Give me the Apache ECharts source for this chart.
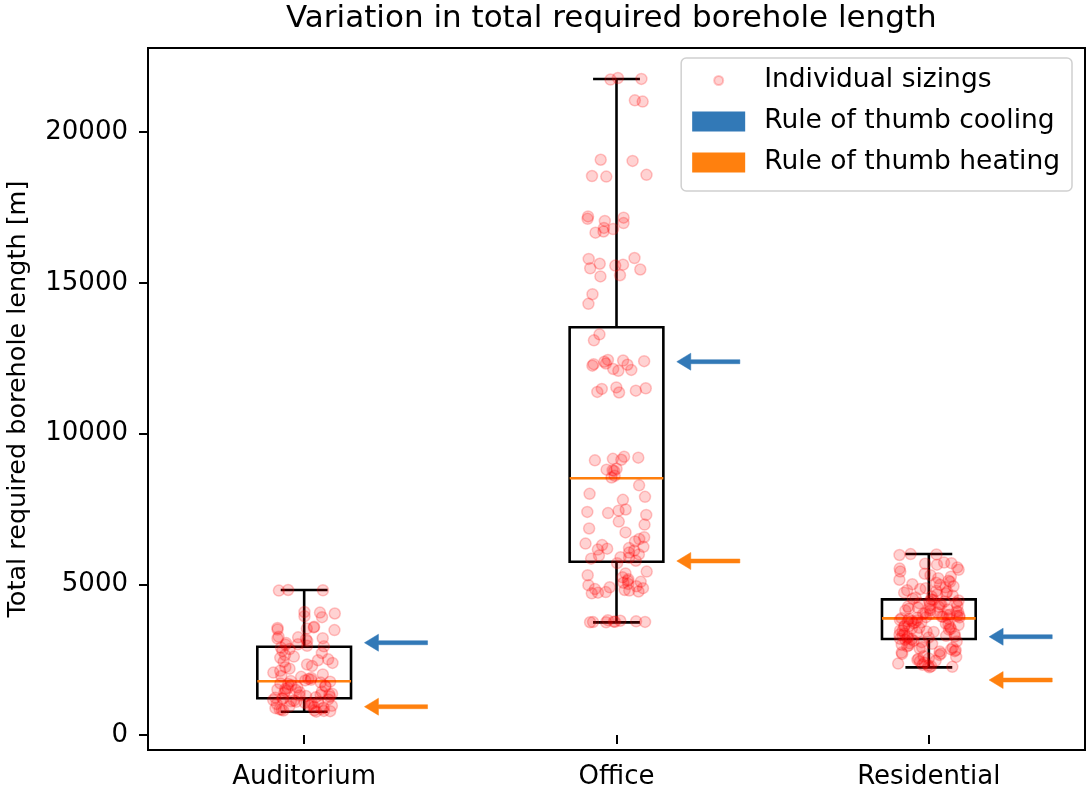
<!DOCTYPE html>
<html>
<head>
<meta charset="utf-8">
<script src="https://cdn.jsdelivr.net/npm/echarts@6.0.0/dist/echarts.min.js"></script>
<style>
  html, body { margin: 0; padding: 0; background: #fff; }
  #chart { width: 1087px; height: 793px; }
</style>
</head>
<body>
<div id="chart"></div>
<script>
// data
const categories = ['Auditorium', 'Office', 'Residential'];

const auditoriumLengths = [
  4800, 4790, 4810, 4060, 4030, 4080, 3940, 3910, 3570, 3530, 3550, 3500, 3590, 3480,
  3240, 3200, 3210, 3260, 3180, 3120, 3050, 3010, 2990, 2960, 2940,
  2900, 2850, 2790, 2720, 2650, 2600, 2560, 2510, 2480, 2430, 2390, 2340, 2290, 2250,
  2200, 2130, 2070, 2010, 1960, 1930, 1890, 1860, 1830, 1810, 1790,
  1770, 1740, 1710, 1690, 1660, 1630, 1610, 1580, 1560, 1530, 1510, 1490, 1460, 1440,
  1420, 1390, 1370, 1350, 1330, 1310, 1290, 1270, 1250, 1240, 1220,
  1200, 1180, 1160, 1140, 1120, 1100, 1090, 1070, 1050, 1030, 1010, 990, 970, 950,
  930, 910, 890, 870, 850, 840, 820, 810, 800, 790, 775
];

const officeLengths = [
  21790, 21760, 21740, 21050, 21010, 19080, 19040, 18580, 18540, 18520, 17200, 17160,
  17120, 17050, 16980, 16820, 16780, 16700, 16660, 15820, 15790, 15630, 15600, 15570,
  15480, 15440, 15250, 15210, 14620, 14300,
  13290, 13090, 12440, 12420, 12400, 12380, 12320, 12300, 12280, 12250, 12140, 12110,
  12080, 11530, 11500, 11480, 11420, 11380, 11360, 9230, 9200, 9160, 9130, 9110, 8830,
  8800, 8780, 8760, 8600, 8540,
  8280, 8000, 7900, 7800, 7480, 7440, 7400, 7360, 7300, 7080, 6980, 6850, 6720, 6560,
  6500, 6420, 6350, 6300, 6240, 6200, 6180, 6150, 6120, 6050, 5990, 5950, 5900, 5880,
  5850, 5780,
  5700, 5420, 5360, 5300, 5230, 5170, 5120, 5080, 5050, 5010, 4970, 4930, 4900, 4870,
  4840, 4810, 4790, 4760, 4740, 4720, 4700, 3810, 3790, 3770, 3760, 3755, 3750, 3745,
  3740, 3738
];

const residentialLengths = [
  6000, 5990, 5970, 5720, 5700, 5680, 5650, 5560, 5520, 5480, 5420, 5350, 5300, 5250,
  5200, 5150, 5120, 5080, 5050, 5000, 4980, 4930, 4900, 4870, 4840, 4800, 4780, 4750,
  4720, 4700, 4660, 4620, 4590, 4560, 4520,
  4495, 4480, 4460, 4430, 4420, 4385, 4370, 4340, 4330, 4300, 4280, 4260, 4250, 4220,
  4200, 4190, 4160, 4140, 4130, 4100, 4090, 4060, 4050, 4020, 4010, 3990, 3980, 3960,
  3950, 3930, 3920, 3910, 3900, 3890, 3875,
  3862, 3845, 3820, 3810, 3785, 3770, 3740, 3735, 3710, 3690, 3675, 3650, 3630, 3615,
  3590, 3580, 3555, 3530, 3520, 3495, 3470, 3460, 3430, 3420, 3390, 3370, 3355, 3330,
  3310, 3290, 3270, 3250, 3235, 3210, 3190,
  3175, 3160, 3125, 3105, 3080, 3040, 3025, 2990, 2975, 2940, 2910, 2895, 2860, 2840,
  2815, 2780, 2770, 2735, 2700, 2690, 2655, 2610, 2590, 2540, 2530, 2490, 2460, 2445,
  2400, 2370, 2330, 2300, 2280, 2260, 2245
];

// whisker low, Q1, median, Q3, whisker high
const boxStats = [
  [773, 1217, 1781, 2929, 4810],
  [3737, 5748, 8514, 13522, 21758],
  [2245, 3184, 3870, 4500, 6003]
];

const coolingRule = [3061, 12382, 3260];
const heatingRule = [939, 5771, 1824];

const yTicks = [0, 5000, 10000, 15000, 20000];

const FONT = 'DejaVu Sans';
const coolColor = '#3279b7';
const heatColor = '#ff800e';

const allLengths = [auditoriumLengths, officeLengths, residentialLengths];
const points = [];
allLengths.forEach((list, i) => {
  list.forEach(v => points.push([i, v]));
});

const boxData = boxStats.map((s, i) => [i].concat(s));
const coolData = coolingRule.map((v, i) => [i, v]);
const heatData = heatingRule.map((v, i) => [i, v]);

function renderBox(params, api) {
  const i = api.value(0);
  const low = api.coord([i, api.value(1)]);
  const q1 = api.coord([i, api.value(2)]);
  const med = api.coord([i, api.value(3)]);
  const q3 = api.coord([i, api.value(4)]);
  const high = api.coord([i, api.value(5)]);
  const band = api.size([1, 0])[0];
  const half = band * 0.15;
  const cap = band * 0.075;
  const cx = low[0];
  const st = { stroke: '#000', lineWidth: 2.6, fill: 'none' };
  return {
    type: 'group',
    children: [
      { type: 'line', shape: { x1: cx, y1: q3[1], x2: cx, y2: high[1] }, style: st },
      { type: 'line', shape: { x1: cx, y1: q1[1], x2: cx, y2: low[1] }, style: st },
      { type: 'line', shape: { x1: cx - cap, y1: high[1], x2: cx + cap, y2: high[1] }, style: st },
      { type: 'line', shape: { x1: cx - cap, y1: low[1], x2: cx + cap, y2: low[1] }, style: st },
      { type: 'rect', shape: { x: cx - half, y: q3[1], width: half * 2, height: q1[1] - q3[1] }, style: st },
      { type: 'line', shape: { x1: cx - half, y1: med[1], x2: cx + half, y2: med[1] },
        style: { stroke: '#ff7f0e', lineWidth: 2.6 } }
    ]
  };
}

function arrowRenderer(color) {
  return function (params, api) {
    const p = api.coord([api.value(0), api.value(1)]);
    const band = api.size([1, 0])[0];
    const tip = p[0] + band * 0.193;
    const tail = p[0] + band * 0.395;
    const headLen = 14, headHalf = 8.5, shaft = 2;
    const y = p[1];
    return {
      type: 'polygon',
      shape: {
        points: [
          [tail, y - shaft], [tip + headLen, y - shaft], [tip + headLen, y - headHalf],
          [tip, y], [tip + headLen, y + headHalf], [tip + headLen, y + shaft], [tail, y + shaft]
        ]
      },
      style: { fill: color, stroke: color, lineWidth: 0.5 }
    };
  };
}

const chart = echarts.init(document.getElementById('chart'));

const option = {
  backgroundColor: '#fff',
  animation: false,
  title: {
    text: 'Variation in total required borehole length',
    left: 286,
    top: 3,
    padding: 0,
    textStyle: { fontFamily: FONT, fontSize: 31, fontWeight: 'normal', color: '#000' }
  },
  legend: {
    orient: 'vertical',
    right: 15,
    top: 58,
    padding: [9, 12, 15, 10],
    itemWidth: 53,
    itemHeight: 20,
    itemGap: 14,
    borderColor: '#d0d0d0',
    borderWidth: 1.5,
    borderRadius: 5,
    backgroundColor: 'rgba(255,255,255,0.8)',
    textStyle: { fontFamily: FONT, fontSize: 26.5, color: '#000', lineHeight: 26, padding: [0, 0, 0, 14] },
    data: [
      { name: 'Individual sizings', icon: 'path://M0,0M53,20M31,10A4.5,4.5,0,1,1,22,10A4.5,4.5,0,1,1,31,10Z' },
      { name: 'Rule of thumb cooling', icon: 'rect' },
      { name: 'Rule of thumb heating', icon: 'rect' }
    ]
  },
  grid: {
    left: 148,
    right: 2,
    top: 48,
    bottom: 43,
    outerBoundsMode: 'none',
    containLabel: false,
    show: true,
    borderColor: '#000',
    borderWidth: 2,
    backgroundColor: 'transparent'
  },
  xAxis: {
    type: 'category',
    data: categories,
    boundaryGap: true,
    jitter: 62,
    axisLine: { show: false },
    axisTick: { show: true, alignWithLabel: true, length: 9, lineStyle: { color: '#000', width: 2 } },
    axisLabel: { fontFamily: FONT, fontSize: 26, color: '#000', margin: 14 },
    splitLine: { show: false }
  },
  yAxis: {
    type: 'value',
    min: -497,
    max: 22786,
    name: 'Total required borehole length [m]',
    nameLocation: 'middle',
    nameGap: 117,
    nameTextStyle: { fontFamily: FONT, fontSize: 25.5, color: '#000' },
    axisLine: { show: false },
    axisTick: { show: true, length: 9, customValues: yTicks, lineStyle: { color: '#000', width: 2 } },
    axisLabel: {
      fontFamily: FONT, fontSize: 26, color: '#000', margin: 20, customValues: yTicks,
      formatter: v => String(v)
    },
    splitLine: { show: false }
  },
  series: [
    {
      name: 'boxes',
      type: 'custom',
      renderItem: renderBox,
      data: boxData,
      encode: { x: 0, y: [1, 2, 3, 4, 5] },
      z: 2,
      silent: true
    },
    {
      name: 'Individual sizings',
      type: 'scatter',
      data: points,
      symbolSize: 11,
      itemStyle: { color: 'rgba(255,0,0,0.22)', borderColor: 'rgba(255,0,0,0.28)', borderWidth: 1.5 },
      z: 3
    },
    {
      name: 'Rule of thumb cooling',
      type: 'custom',
      renderItem: arrowRenderer(coolColor),
      data: coolData,
      encode: { x: 0, y: 1 },
      itemStyle: { color: coolColor },
      z: 2
    },
    {
      name: 'Rule of thumb heating',
      type: 'custom',
      renderItem: arrowRenderer(heatColor),
      data: heatData,
      encode: { x: 0, y: 1 },
      itemStyle: { color: heatColor },
      z: 2
    }
  ]
};

chart.setOption(option);
</script>
</body>
</html>
